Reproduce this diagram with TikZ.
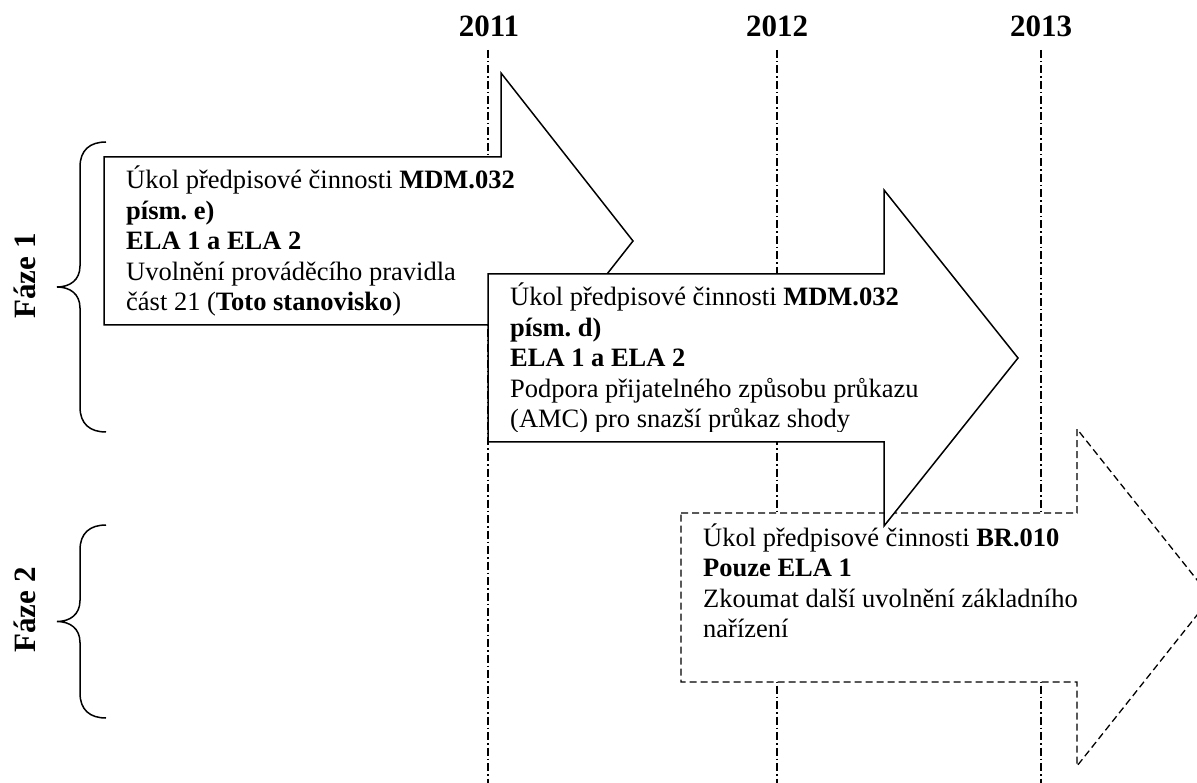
\documentclass[tikz,border=0pt]{standalone}
\usepackage{fontspec}
\setmainfont{Liberation Serif}
\frenchspacing
\begin{document}
\begin{tikzpicture}[x=1pt,y=-1pt,
  yearline/.style={line width=1.2pt, dash pattern=on 8pt off 3pt on 1.5pt off 3pt},
  solidarrow/.style={draw, fill=white, line width=1.5pt, line join=miter},
  dasharrow/.style={draw, fill=white, line width=1.3pt, dash pattern=on 7pt off 4pt},
  txt/.style={anchor=base west, inner sep=0pt, font=\fontsize{26.5}{30.5}\selectfont},
  yr/.style={anchor=base, inner sep=0pt, font=\fontsize{31}{36}\selectfont\bfseries},
  phase/.style={rotate=90, anchor=base, inner sep=0pt, font=\fontsize{31}{36}\selectfont\bfseries},
  bracestyle/.style={line width=1.5pt}]
\useasboundingbox (0,0) rectangle (1197,783);

% years
\node[yr] (y2011) at (489,36.5) {2011};
\node[yr] (y2012) at (777,36.5) {2012};
\node[yr] (y2013) at (1041,36.5) {2013};
\coordinate (l1t) at (488,50);   \coordinate (l1b) at (488,783);
\coordinate (l2t) at (777,50);   \coordinate (l2b) at (777,783);
\coordinate (l3t) at (1041,50);  \coordinate (l3b) at (1041,783);
\draw[yearline] (l1t) -- (l1b);
\draw[yearline] (l2t) -- (l2b);
\draw[yearline] (l3t) -- (l3b);

% arrow 3 (dashed)
\draw[dasharrow] (681,513) -- (1077,513) -- (1077,429) -- (1211,597.5) -- (1077,766) -- (1077,682) -- (681,682) -- cycle;
% arrow 1
\draw[solidarrow] (104,157) -- (501,157) -- (501,73) -- (633,241) -- (501,409) -- (501,325) -- (104,325) -- cycle;
% arrow 2
\draw[solidarrow] (488,274) -- (884,274) -- (884,190) -- (1018,358) -- (884,526) -- (884,442) -- (488,442) -- cycle;

% texts arrow 1
\node[txt] (a1l1) at (126,189) {Úkol předpisové činnosti \textbf{MDM.032}};
\node[txt] (a1l2) at (126,219.5) {\textbf{písm. e)}};
\node[txt] (a1l3) at (126,250) {\textbf{ELA 1 a ELA 2}};
\node[txt] (a1l4) at (126,280.5) {Uvolnění prováděcího pravidla};
\node[txt] (a1l5) at (126,311) {část 21 (\textbf{Toto stanovisko})};

% texts arrow 2
\begin{scope}
\clip (488,270) rectangle (1020,432);
\node[txt] (a2l1) at (510,306) {Úkol předpisové činnosti \textbf{MDM.032}};
\node[txt] (a2l2) at (510,336.5) {\textbf{písm. d)}};
\node[txt] (a2l3) at (510,367) {\textbf{ELA 1 a ELA 2}};
\node[txt] (a2l4) at (510,397.5) {Podpora přijatelného způsobu průkazu};
\node[txt] (a2l5) at (510,428) {(AMC) pro snazší průkaz shody};
\end{scope}

% texts arrow 3
\node[txt] (a3l1) at (703,546) {Úkol předpisové činnosti \textbf{BR.010}};
\node[txt] (a3l2) at (703,576.5) {\textbf{Pouze ELA 1}};
\node[txt] (a3l3) at (703,607) {Zkoumat další uvolnění základního};
\node[txt] (a3l4) at (703,637.5) {nařízení};

% braces
\draw[bracestyle] (106,142) .. controls (90,142) and (80,150) .. (80,167)
  -- (80,266) .. controls (80,280) and (70,287) .. (57,287)
  .. controls (70,287) and (80,294) .. (80,308)
  -- (80,407) .. controls (80,424) and (90,432) .. (106,432);
\draw[bracestyle] (106,525) .. controls (90,525) and (80,533) .. (80,550)
  -- (80,600.5) .. controls (80,614.5) and (70,621.5) .. (57,621.5)
  .. controls (70,621.5) and (80,628.5) .. (80,642.5)
  -- (80,693) .. controls (80,710) and (90,718) .. (106,718);

% phase labels
\node[phase] (f1) at (35,276) {Fáze 1};
\node[phase] (f2) at (35,610) {Fáze 2};
\end{tikzpicture}
\end{document}
